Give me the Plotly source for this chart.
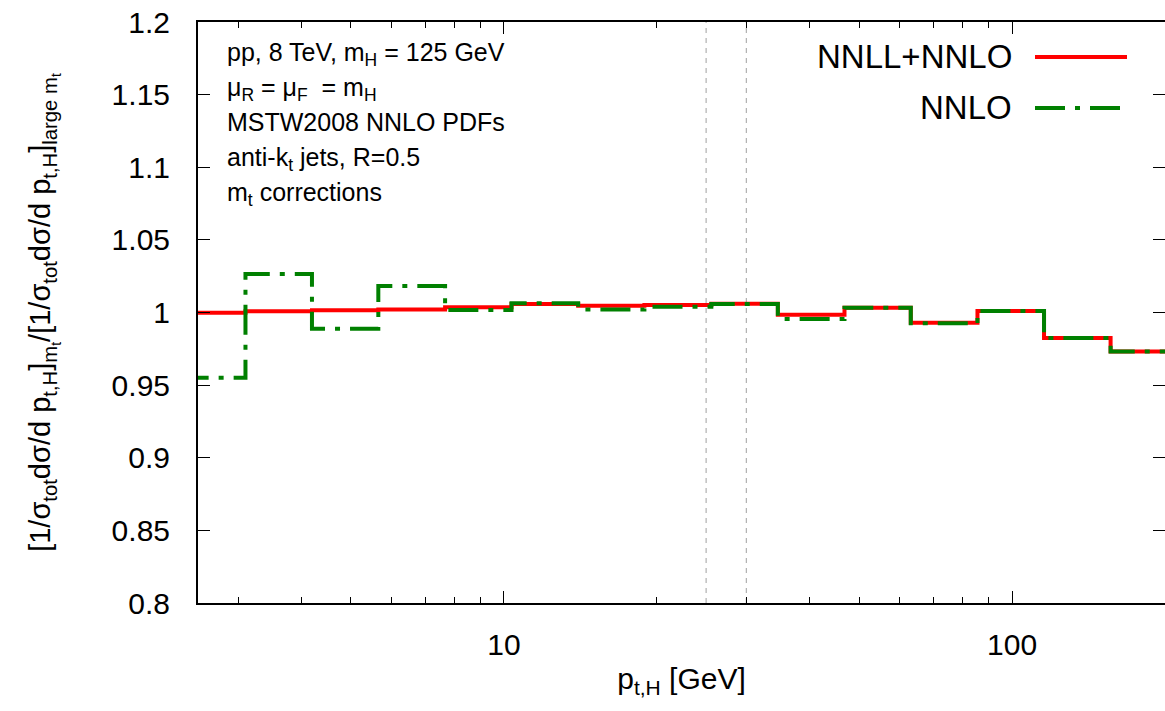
import numpy as np
import plotly.graph_objects as go

# ---- data ----
bin_edges = [2.29, 3.10, 4.19, 5.66, 7.66, 10.35, 14.0, 18.9, 25.6, 34.6,
             46.8, 63.2, 85.5, 115.6, 156.3, 211.0]
nnll_nnlo = [0.9999, 1.0008, 1.0015, 1.0021, 1.0036, 1.0058, 1.0047, 1.0051,
             1.0061, 0.9985, 1.0033, 0.9930, 1.0011, 0.9825, 0.9731]
nnlo = [0.955, 1.0265, 0.9888, 1.0182, 1.0017, 1.0063, 1.0020, 1.0040,
        1.0059, 0.9955, 1.0033, 0.9926, 1.0011, 0.9825, 0.9731]
ref_lines = [25, 30]
x_range = [2.5, 200]
y_range = [0.8, 1.2]
y_ticks = [0.8, 0.85, 0.9, 0.95, 1.0, 1.05, 1.1, 1.15, 1.2]
y_ticktext = ["0.8", "0.85", "0.9", "0.95", "1", "1.05", "1.1", "1.15", "1.2"]
x_major = [10, 100]
x_minor = [3, 4, 5, 6, 7, 8, 9, 20, 30, 40, 50, 60, 70, 80, 90, 200]
info_lines = [
    "pp, 8 TeV, m<sub>H</sub> = 125 GeV",
    "\u03bc<sub>R</sub> = \u03bc<sub>F</sub>  = m<sub>H</sub>",
    "MSTW2008 NNLO PDFs",
    "anti-k<sub>t</sub> jets, R=0.5",
    "m<sub>t</sub> corrections",
]

RED = "#ff0000"
GREEN = "#008000"
DASHDOT = "30px,10px,5px,10px"
FONT = "Liberation Sans, Arial, sans-serif"


def step_y(vals):
    return list(vals) + [vals[-1]]


fig = go.Figure()
fig.add_trace(go.Scatter(x=bin_edges, y=step_y(nnll_nnlo), mode="lines",
                         line=dict(color=RED, width=4, shape="hv"),
                         name="NNLL+NNLO", showlegend=False))
fig.add_trace(go.Scatter(x=bin_edges, y=step_y(nnlo), mode="lines",
                         line=dict(color=GREEN, width=4, shape="hv", dash=DASHDOT),
                         name="NNLO", showlegend=False))

shapes = []
for xv in ref_lines:
    shapes.append(dict(type="line", xref="x", yref="paper", x0=xv, x1=xv, y0=0, y1=1,
                       line=dict(color="#b0b0b0", width=1.2, dash="5px,5px"), layer="below"))

# plot area in pixels: x 198..1165, y 22..603
L, R, T, B = 198, 1165, 22, 603
def px(xp):
    return (xp - L) / (R - L)
def py(yp):
    return (B - yp) / (B - T)

# legend (text left of sample, as in the reference)
legend_items = [("NNLL+NNLO", RED, None, 57), ("NNLO", GREEN, DASHDOT, 108)]
annotations = []
for name, col, dash, ypix in legend_items:
    annotations.append(dict(text=name, xref="paper", yref="paper", x=px(1014), y=py(ypix),
                            xanchor="right", yanchor="middle", showarrow=False,
                            font=dict(family=FONT, size=33, color="black")))
    ln = dict(color=col, width=4)
    if dash:
        ln["dash"] = dash
    shapes.append(dict(type="line", xref="paper", yref="paper", x0=px(1035), x1=px(1127),
                       y0=py(ypix), y1=py(ypix), line=ln))

for i, line_text in enumerate(info_lines):
    annotations.append(dict(text=line_text, xref="paper", yref="paper",
                            x=px(225), y=py(36 + 35 * i), xanchor="left", yanchor="top",
                            align="left", showarrow=False,
                            font=dict(family=FONT, size=25, color="black")))

fig.update_layout(
    width=1165, height=711,
    margin=dict(l=L, r=0, t=T, b=711 - B, autoexpand=False),
    paper_bgcolor="white", plot_bgcolor="white",
    font=dict(family=FONT, color="black"),
    shapes=shapes, annotations=annotations, showlegend=False,
    xaxis=dict(type="log", range=[np.log10(x_range[0]), np.log10(x_range[1])],
               tickmode="array", tickvals=x_major, ticktext=[str(v) for v in x_major],
               ticks="inside", ticklen=12, tickwidth=1.2, tickcolor="black",
               minor=dict(tickmode="array", tickvals=x_minor, ticks="inside", ticklen=6,
                          tickwidth=1.2, tickcolor="black", showgrid=False),
               showline=True, linecolor="black", linewidth=2, mirror="allticks",
               showgrid=False, zeroline=False, ticklabelstandoff=14,
               tickfont=dict(family=FONT, size=30),
               title=dict(text="p<sub>t,H</sub> [GeV]", standoff=8,
                          font=dict(family=FONT, size=30))),
    yaxis=dict(range=y_range, tickmode="array", tickvals=y_ticks, ticktext=y_ticktext,
               ticks="inside", ticklen=12, tickwidth=1.2, tickcolor="black",
               showline=True, linecolor="black", linewidth=2, mirror="allticks",
               showgrid=False, zeroline=False, ticklabelstandoff=20,
               tickfont=dict(family=FONT, size=30),
               title=dict(text="[1/\u03c3<sub>tot</sub>d\u03c3/d p<sub>t,H</sub>]<sub>m<sub>t</sub></sub>"
                               "/[1/\u03c3<sub>tot</sub>d\u03c3/d p<sub>t,H</sub>]<sub>large m<sub>t</sub></sub>",
                          standoff=52, font=dict(family=FONT, size=29))),
)

fig.write_html("out.html")
